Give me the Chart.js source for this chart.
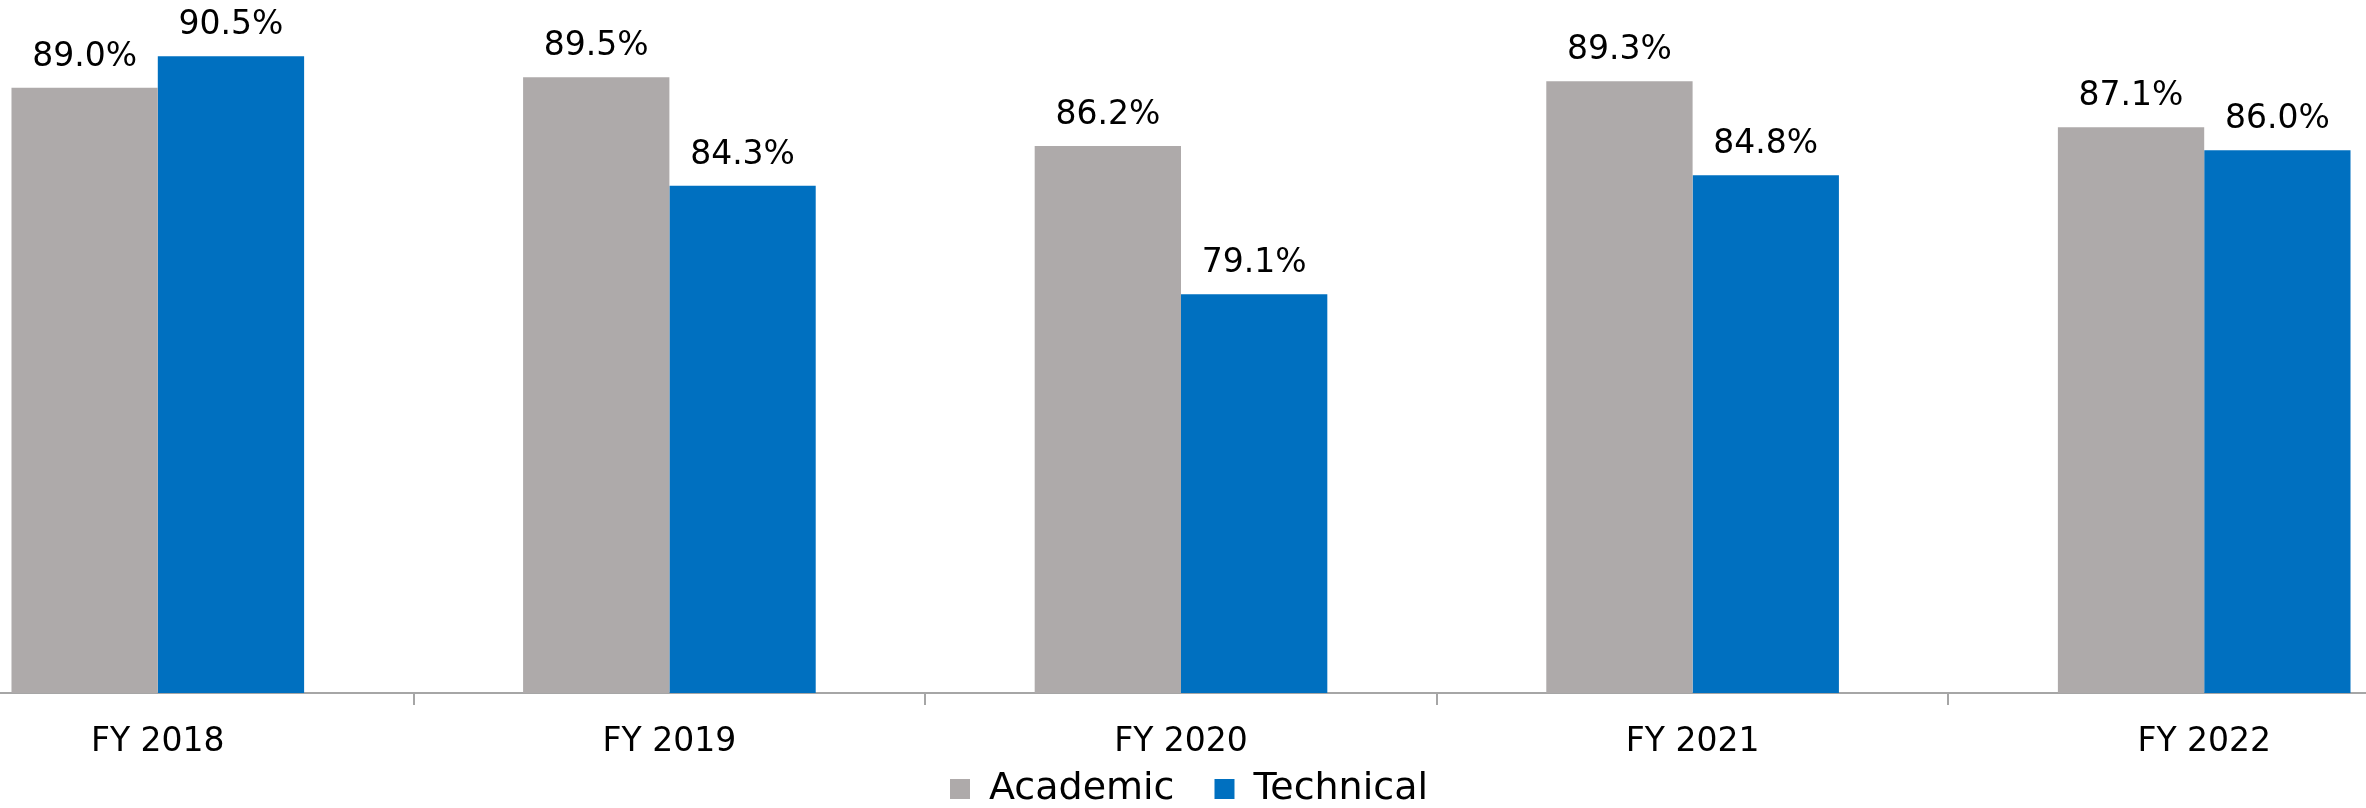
<!DOCTYPE html>
<html>
<head>
<meta charset="utf-8">
<script src="https://cdn.jsdelivr.net/npm/chart.js@4/dist/chart.umd.min.js"></script>
<style>
  body { margin: 0; width: 2366px; height: 808px; overflow: hidden; background: #fff; position: relative; }
  #wrap { position: absolute; left: -98px; top: 0; width: 2574px; height: 818px; }
</style>
</head>
<body>
<div id="wrap"><canvas id="myChart" width="2574" height="818"></canvas></div>
<script>
  let years = ['FY 2018', 'FY 2019', 'FY 2020', 'FY 2021', 'FY 2022']
  let academic = [89.0, 89.5, 86.2, 89.3, 87.1]
  let technical = [90.5, 84.3, 79.1, 84.8, 86.0]

  const fontName = '"DejaVu Sans", sans-serif'

  // percent labels above each bar
  const valueLabels = {
    id: 'valueLabels',
    afterDatasetsDraw(chart) {
      const ctx = chart.ctx
      ctx.save()
      ctx.font = '33px ' + fontName
      ctx.fillStyle = '#000'
      ctx.textAlign = 'center'
      ctx.textBaseline = 'alphabetic'
      chart.data.datasets.forEach((ds, i) => {
        chart.getDatasetMeta(i).data.forEach((bar, j) => {
          ctx.fillText(ds.data[j].toFixed(1) + '%', bar.x, bar.y - 22)
        })
      })
      ctx.restore()
    }
  }

  const ctx = document.getElementById('myChart')

  new Chart(ctx, {
    type: 'bar',
    data: {
      labels: years,
      datasets: [{
        label: 'Academic',
        data: academic,
        backgroundColor: '#AEAAAA'
      }, {
        label: 'Technical',
        data: technical,
        backgroundColor: '#0070C0'
      }]
    },
    options: {
      responsive: false,
      animation: false,
      layout: { padding: { top: 25, left: 0, right: 0, bottom: 0 } },
      datasets: { bar: { categoryPercentage: 0.572, barPercentage: 1.0 } },
      plugins: {
        tooltip: { enabled: false },
        legend: {
          position: 'bottom',
          labels: {
            color: '#000',
            font: { family: fontName, size: 38 },
            boxWidth: 20,
            boxHeight: 20,
            padding: 40
          }
        }
      },
      scales: {
        x: {
          grid: {
            offset: true,
            drawOnChartArea: false,
            drawTicks: true,
            tickLength: 12,
            color: '#A6A6A6',
            lineWidth: 2
          },
          border: { display: true, color: '#A6A6A6', width: 2 },
          ticks: {
            color: '#000',
            font: { family: fontName, size: 33 },
            mirror: true,
            padding: -69,
            maxRotation: 0
          },
          afterFit: (scale) => { scale.height = 37 }
        },
        y: {
          position: 'right',
          min: 60,
          max: 92,
          grid: { display: false },
          border: { display: false },
          ticks: { display: false },
          afterFit: (scale) => { scale.width = 16 }
        }
      }
    },
    plugins: [valueLabels]
  })
</script>
</body>
</html>
